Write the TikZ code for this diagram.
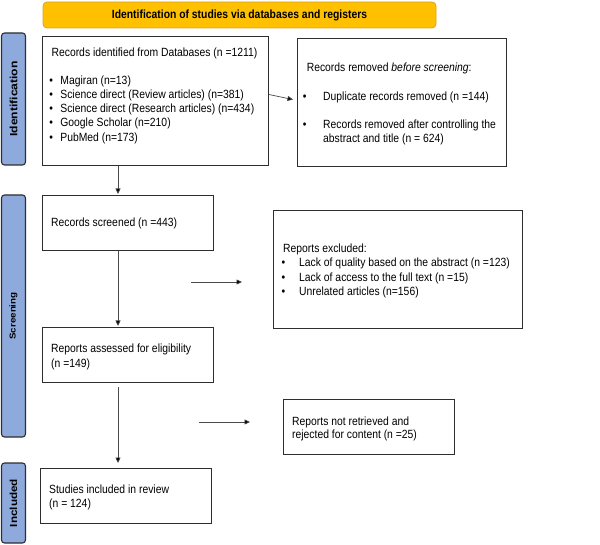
\documentclass[tikz,border=0pt]{standalone}
\usepackage{fontspec}
\setmainfont[FakeStretch=0.871]{Liberation Sans}
\newfontfamily\sidefont{Liberation Sans}
\usetikzlibrary{arrows.meta,calc}
\definecolor{hdrc}{HTML}{FFC000}
\definecolor{hdrb}{HTML}{D9A520}
\definecolor{sidec}{HTML}{8EA9DB}
\definecolor{bord}{HTML}{2E2E2E}
\definecolor{arrc}{HTML}{4A4A4A}
\begin{document}
\begin{tikzpicture}[x=1pt,y=-1pt,
  box/.style={draw=bord, line width=1.1pt, anchor=north west, inner sep=0pt},
  ln/.style={anchor=base west, inner sep=0pt, font=\fontsize{11.9}{14}\selectfont},
  sidebar/.style={draw=bord, fill=sidec, line width=1.1pt, rounded corners=3pt, inner sep=0pt, minimum width=24pt},
  sidelabel/.style={xscale=0.871, rotate=90, transform shape, inner sep=0pt},
  arr/.style={draw=arrc, line width=0.7pt, -{Triangle[length=5.5pt,width=5pt,fill=black]}}]
\useasboundingbox (0,0) rectangle (600,545);

% header
\node[draw=hdrb, fill=hdrc, rounded corners=4pt, line width=0.8pt, minimum width=393pt, minimum height=26pt, inner sep=0pt,
  font=\bfseries\fontsize{11.9}{14}\selectfont] (hdr) at (239.5,15) {Identification of studies via databases and registers};

% side bars
\node[sidebar, minimum height=132pt] (sid) at (13.5,99) {};
\node[sidebar, minimum height=242pt] (sscr) at (13.5,316) {};
\node[sidebar, minimum height=80pt] (sinc) at (13.5,503) {};
\node[sidelabel, font=\sidefont\bfseries\fontsize{12.1}{14}\selectfont] (lid) at (sid.center) {Identification};
\node[sidelabel, font=\sidefont\bfseries\fontsize{9.8}{12}\selectfont] (lscr) at (sscr.center) {Screening};
\node[sidelabel, font=\sidefont\bfseries\fontsize{11.7}{13}\selectfont] (linc) at (sinc.center) {Included};

% boxes
\node[box, minimum width=226pt, minimum height=129pt] (id) at (42,36) {};
\node[box, minimum width=209pt, minimum height=128pt] (rem) at (297,38) {};
\node[box, minimum width=171pt, minimum height=55pt] (scr) at (42,195) {};
\node[box, minimum width=249pt, minimum height=118pt] (exc) at (273,210) {};
\node[box, minimum width=171pt, minimum height=55pt] (ass) at (42,327) {};
\node[box, minimum width=171pt, minimum height=55pt] (notr) at (283,399) {};
\node[box, minimum width=171pt, minimum height=55pt] (inc) at (40,468) {};

% texts: records identified
\node[ln] (id0) at (51.4,57) {Records identified from Databases (n =1211)};
\node[ln] (id1) at (49.2,84.5) {\makebox[11pt][l]{\textbullet}Magiran (n=13)};
\node[ln] (id2) at (49.2,98.5) {\makebox[11pt][l]{\textbullet}Science direct (Review articles) (n=381)};
\node[ln] (id3) at (49.2,112.8) {\makebox[11pt][l]{\textbullet}Science direct (Research articles) (n=434)};
\node[ln] (id4) at (49.2,127) {\makebox[11pt][l]{\textbullet}Google Scholar (n=210)};
\node[ln] (id5) at (49.2,141.2) {\makebox[11pt][l]{\textbullet}PubMed (n=173)};

% records removed
\node[ln] (rm0) at (306.6,72) {Records removed \textit{before screening}:};
\node[ln] (rm1) at (302.7,100.2) {\makebox[20.3pt][l]{\textbullet}Duplicate records removed (n =144)};
\node[ln] (rm2) at (302.7,128.5) {\makebox[20.3pt][l]{\textbullet}Records removed after controlling the};
\node[ln] (rm3) at (323,142.5) {abstract and title (n = 624)};

% screened
\node[ln] (sc0) at (51,227) {Records screened (n =443)};

% excluded
\node[ln] (ex0) at (283,252.2) {Reports excluded:};
\node[ln] (ex1) at (281.4,267) {\makebox[17.6pt][l]{\textbullet}Lack of quality based on the abstract (n =123)};
\node[ln] (ex2) at (281.4,281.5) {\makebox[17.6pt][l]{\textbullet}Lack of access to the full text (n =15)};
\node[ln] (ex3) at (281.4,295.2) {\makebox[17.6pt][l]{\textbullet}Unrelated articles (n=156)};

% assessed
\node[ln] (as0) at (51,352.2) {Reports assessed for eligibility};
\node[ln] (as1) at (51,367.2) {(n =149)};

% not retrieved
\node[ln] (nr0) at (292,425.2) {Reports not retrieved and};
\node[ln] (nr1) at (292,438.2) {rejected for content (n =25)};

% included
\node[ln] (in0) at (49,493.2) {Studies included in review};
\node[ln] (in1) at (49,507.2) {(n = 124)};

% connectors
\coordinate (vx) at (118,0);
\draw[arr] (id.south -| vx) -- ([yshift=1pt]scr.north -| vx);
\draw[arr] (scr.south -| vx) -- ([yshift=1pt]ass.north -| vx);
\draw[arr, shorten <=4pt, shorten >=5pt] (ass.south -| vx) -- (inc.north -| vx);
\draw[arr] ([yshift=6.5pt]id.east) -- ([xshift=-4pt,yshift=3pt]rem.west);
\coordinate (h1a) at (191,282);
\coordinate (h1b) at (242,282);
\draw[arr] (h1a) -- (h1b);
\coordinate (h2a) at (199,422);
\coordinate (h2b) at (250,422);
\draw[arr] (h2a) -- (h2b);
\end{tikzpicture}
\end{document}
